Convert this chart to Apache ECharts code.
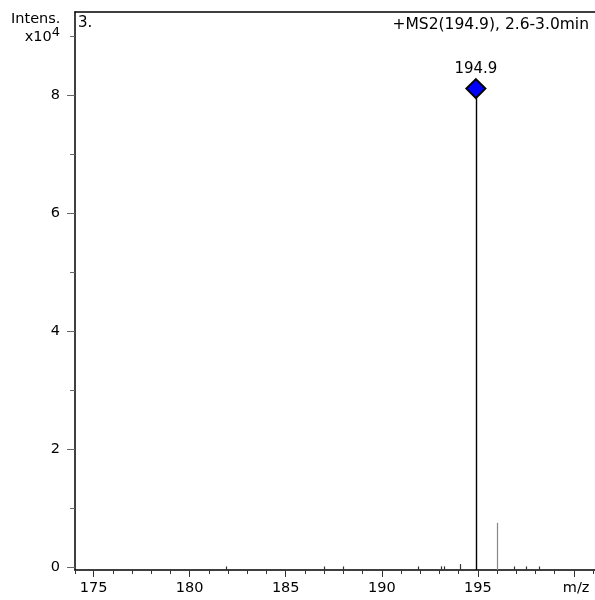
<!DOCTYPE html>
<html><head><meta charset="utf-8">
<script src="https://cdn.jsdelivr.net/npm/echarts@6/dist/echarts.min.js"></script>
<style>html,body{margin:0;padding:0;background:#fff}#c{width:595px;height:600px}</style>
</head><body><div id="c"></div>
<script>
// m/z values of the peaks and their intensities (x10^4)
var mzValues = [181.9, 187.0, 188.0, 191.9, 193.1, 193.25, 194.05, 194.9, 196.0, 196.9, 197.5, 198.2];
var intensities = [0.01, 0.01, 0.01, 0.01, 0.012, 0.012, 0.05, 8.12, 0.75, 0.01, 0.01, 0.01];
var stickColors = ['#333', '#333', '#333', '#333', '#333', '#333', '#333', '#000', '#888', '#333', '#333', '#333'];
var labelledPeak = [194.9, 8.12];
var xMajorTicks = [175, 180, 185, 190, 195, 200];
var xMinorTicks = [174.03,175,176,177,178,179,180,181,182,183,184,185,186,187,188,189,190,191,192,193,194,195,196,197,198,199,200,201];
var yMajorTicks = [0, 2, 4, 6, 8];
var yMinorTicks = [1, 3, 5, 7, 9];
var yLabelValues = [0, 2, 4, 6, 8, 9];
var xMin = 174.03, xMax = 201.1, yMin = -0.05, yMax = 9.42;

var FONT = '"DejaVu Sans", "Liberation Sans", Arial, sans-serif';
var chart = echarts.init(document.getElementById('c'), null, {renderer: 'canvas'});

var stickData = mzValues.map(function (m, i) { return [m, intensities[i], i]; });

var option = {
  animation: false,
  textStyle: {fontFamily: FONT},
  grid: {left: 75, right: 0, top: 12, bottom: 30, containLabel: false},
  xAxis: [
    {
      type: 'value', min: xMin, max: xMax, position: 'bottom',
      axisLine: {show: true, onZero: false, lineStyle: {color: '#000', width: 1.5}},
      axisTick: {show: true, customValues: xMajorTicks, length: 7, lineStyle: {color: '#333'}},
      axisLabel: {show: true, customValues: xMajorTicks, margin: 11, fontSize: 14.5, color: '#000', fontFamily: FONT,
        formatter: function (v) { return v === 200 ? ' m/z' : String(v); }},
      splitLine: {show: false}
    },
    {
      type: 'value', min: xMin, max: xMax, position: 'bottom',
      axisLine: {show: false, onZero: false},
      axisTick: {show: true, customValues: xMinorTicks, length: 4, lineStyle: {color: '#333'}},
      axisLabel: {show: false},
      splitLine: {show: false}
    },
    {
      type: 'value', min: xMin, max: xMax, position: 'top',
      axisLine: {show: true, onZero: false, lineStyle: {color: '#000', width: 1.5}},
      axisTick: {show: false}, axisLabel: {show: false}, splitLine: {show: false}
    }
  ],
  yAxis: [
    {
      type: 'value', min: yMin, max: yMax, position: 'left',
      axisLine: {show: true, onZero: false, lineStyle: {color: '#000', width: 1.5}},
      axisTick: {show: true, customValues: yMajorTicks, length: 8, lineStyle: {color: '#666'}},
      axisLabel: {show: true, customValues: yLabelValues, margin: 15, fontSize: 14.5, color: '#000', fontFamily: FONT,
        formatter: function (v) { return v === 9 ? 'x10{sup|4}' : String(v); },
        rich: {sup: {fontSize: 13, verticalAlign: 'bottom', padding: [0, 0, 8, 0], color: '#000', fontFamily: FONT}}},
      splitLine: {show: false}
    },
    {
      type: 'value', min: yMin, max: yMax, position: 'left',
      axisLine: {show: false, onZero: false},
      axisTick: {show: true, customValues: yMinorTicks, length: 5, lineStyle: {color: '#666'}},
      axisLabel: {show: false},
      splitLine: {show: false}
    }
  ],
  graphic: [
    {type: 'text', left: 11, top: 12, style: {text: 'Intens.', font: '14.5px ' + FONT, fill: '#000'}},
    {type: 'text', left: 78, top: 16, style: {text: '3.', font: '15px ' + FONT, fill: '#000'}},
    {type: 'text', right: 6, top: 17, style: {text: '+MS2(194.9), 2.6-3.0min', font: '15.5px ' + FONT, fill: '#000'}}
  ],
  series: [
    {
      type: 'custom', xAxisIndex: 0, yAxisIndex: 0, clip: true,
      data: stickData,
      renderItem: function (params, api) {
        var x = api.value(0), y = api.value(1), idx = api.value(2);
        var p0 = api.coord([x, yMin]);
        var p1 = api.coord([x, y]);
        return {
          type: 'line',
          shape: {x1: Math.round(p0[0]) + 0.5, y1: p0[1], x2: Math.round(p1[0]) + 0.5, y2: p1[1]},
          style: {stroke: stickColors[idx], lineWidth: idx === 7 ? 1.4 : 1.2}
        };
      }
    },
    {
      type: 'scatter', xAxisIndex: 0, yAxisIndex: 0,
      data: [labelledPeak],
      symbol: 'diamond', symbolSize: [19, 19],
      itemStyle: {color: '#0000ff', borderColor: '#000', borderWidth: 2, opacity: 1},
      label: {show: true, position: 'top', distance: 1, fontSize: 15, color: '#000', fontFamily: FONT,
        formatter: function (p) { return p.value[0].toFixed(1); }},
      emphasis: {disabled: true},
      z: 5
    }
  ]
};
chart.setOption(option);
</script></body></html>
